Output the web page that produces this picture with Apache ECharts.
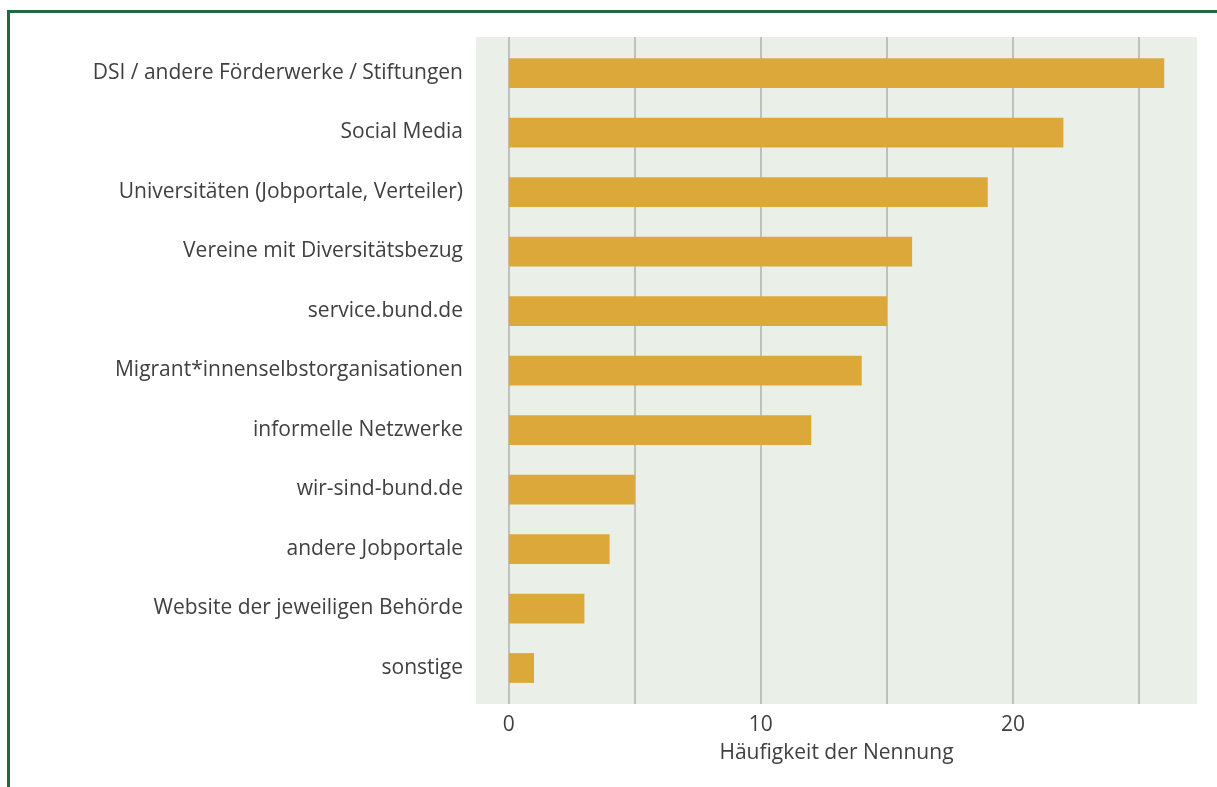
<!DOCTYPE html>
<html>
<head>
<meta charset="utf-8">
<script src="https://cdn.jsdelivr.net/npm/echarts@6/dist/echarts.min.js"></script>
<style>
  html, body { margin: 0; padding: 0; background: #ffffff; overflow: hidden; }
  #frame {
    position: absolute; left: 7px; top: 10px; width: 1230px; height: 800px;
    border: 3px solid #1f6a40; box-sizing: border-box;
  }
  #chart { position: absolute; left: 0; top: 0; width: 1217px; height: 787px; }
</style>
</head>
<body>
<div id="frame"></div>
<div id="chart"></div>
<script>
// Channels through which applicants heard about the job posting
const categories = [
  'DSI / andere Förderwerke / Stiftungen',
  'Social Media',
  'Universitäten (Jobportale, Verteiler)',
  'Vereine mit Diversitätsbezug',
  'service.bund.de',
  'Migrant*innenselbstorganisationen',
  'informelle Netzwerke',
  'wir-sind-bund.de',
  'andere Jobportale',
  'Website der jeweiligen Behörde',
  'sonstige'
];
const counts = [26, 22, 19, 16, 15, 14, 12, 5, 4, 3, 1];
const gridTicks = [0, 5, 10, 15, 20, 25];
const labelTicks = [0, 10, 20];
const axisTitle = 'Häufigkeit der Nennung';

const xMin = -1.3;
const xMax = 27.3;
const FONT = '"Open Sans", "Noto Sans", sans-serif';
const TEXT = '#404040';

const chart = echarts.init(document.getElementById('chart'));
chart.setOption({
  animation: false,
  backgroundColor: 'transparent',
  grid: [
    // panel: background and vertical grid lines
    { left: 476, right: 20, top: 37, bottom: 83, show: true,
      backgroundColor: '#eaefe8', borderWidth: 0 },
    // bars, inset so category bands leave the panel padding
    { left: 476, right: 20, top: 43.25, bottom: 89.25 }
  ],
  xAxis: [
    {
      gridIndex: 0, type: 'value', min: xMin, max: xMax,
      axisLine: { show: false },
      axisTick: { show: false, customValues: gridTicks },
      splitLine: { show: true, lineStyle: { color: '#bec2be', width: 2 } },
      axisLabel: { customValues: labelTicks, color: TEXT, fontSize: 21,
                   fontFamily: FONT, margin: 11 },
      name: axisTitle, nameLocation: 'middle', nameGap: 39,
      nameTextStyle: { color: TEXT, fontSize: 21, fontFamily: FONT }
    },
    {
      gridIndex: 1, type: 'value', min: xMin, max: xMax, show: false,
      splitLine: { show: false }
    }
  ],
  yAxis: [
    { gridIndex: 0, type: 'value', show: false, splitLine: { show: false } },
    {
      gridIndex: 1, type: 'category', data: categories, inverse: true,
      axisLine: { show: false }, axisTick: { show: false },
      axisLabel: { color: TEXT, fontSize: 21, fontFamily: FONT, margin: 13,
                   padding: [3, 0, 0, 0] }
    }
  ],
  series: [{
    type: 'bar', xAxisIndex: 1, yAxisIndex: 1,
    data: counts, barWidth: '50%',
    itemStyle: { color: '#dda83a' }
  }]
});
</script>
</body>
</html>
